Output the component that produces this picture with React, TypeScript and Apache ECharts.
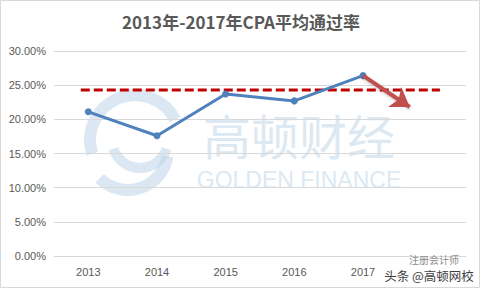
import React, { useEffect, useRef } from "react";
import * as echarts from "echarts";

const categories = ["2013", "2014", "2015", "2016", "2017", ""];
const passRates = [21.1, 17.6, 23.7, 22.7, 26.4];
const yTicks = { min: 0, max: 30, interval: 5 };
const avgLine = [
  [0.39, 24.3],
  [5.62, 24.3],
];
const arrowFrom = [4.5, 26.4];
const arrowTo = [5.18, 21.8];
const titleText = "2013年-2017年CPA平均通过率";

export default function App() {
  const ref = useRef<HTMLDivElement>(null);
  useEffect(() => {
    document.body.style.margin = "0";
    const chart = echarts.init(ref.current!, undefined, { renderer: "svg" });
    const wm = "rgba(190,212,232,0.55)";
    chart.setOption({
      animation: false,
      backgroundColor: "#ffffff",
      title: {
        text: titleText,
        left: "center",
        top: 8,
        textStyle: {
          fontFamily: "Noto Sans CJK SC",
          fontWeight: "bold",
          fontSize: 17,
          color: "#595959",
        },
      },
      graphic: [
        {
          type: "rect",
          shape: { x: 0.5, y: 0.5, width: 479, height: 287 },
          style: { fill: "none", stroke: "#d9d9d9", lineWidth: 1 },
          silent: true,
          z: -1,
        },
        {
          type: "arc",
          shape: { cx: 135, cy: 140, r: 45, startAngle: Math.PI * 0.9, endAngle: Math.PI * 1.85 },
          style: { fill: "none", stroke: wm, lineWidth: 12 },
          silent: true,
          z: -1,
        },
        {
          type: "arc",
          shape: { cx: 140, cy: 140, r: 28, startAngle: Math.PI * 0.1, endAngle: Math.PI * 0.9 },
          style: { fill: "none", stroke: wm, lineWidth: 10 },
          silent: true,
          z: -1,
        },
        {
          type: "arc",
          shape: { cx: 128, cy: 150, r: 40, startAngle: Math.PI * 0.05, endAngle: Math.PI * 0.75 },
          style: { fill: "none", stroke: wm, lineWidth: 12 },
          silent: true,
          z: -1,
        },
        {
          type: "text",
          x: 299,
          y: 134,
          silent: true,
          z: -1,
          style: {
            text: "高顿财经",
            fill: wm,
            font: "48px 'Noto Sans CJK SC'",
            align: "center",
            verticalAlign: "middle",
          },
        },
        {
          type: "text",
          x: 299,
          y: 180,
          silent: true,
          z: -1,
          style: {
            text: "GOLDEN FINANCE",
            fill: wm,
            font: "23px 'Liberation Sans'",
            align: "center",
            verticalAlign: "middle",
          },
        },
        {
          type: "text",
          x: 434,
          y: 259,
          silent: true,
          z: 10,
          style: {
            text: "注册会计师",
            fill: "#8c8c8c",
            font: "10px 'Noto Sans CJK SC'",
            align: "center",
            verticalAlign: "middle",
          },
        },
        {
          type: "text",
          x: 429,
          y: 275,
          silent: true,
          z: 11,
          style: {
            text: "头条 @高顿网校",
            fill: "#404040",
            stroke: "#ffffff",
            lineWidth: 2,
            font: "12.5px 'Noto Sans CJK SC'",
            align: "center",
            verticalAlign: "middle",
          },
        },
      ],
      grid: { left: 54, right: 16, top: 51, bottom: 34 },
      xAxis: [
        {
          type: "category",
          data: categories,
          boundaryGap: true,
          axisLine: { lineStyle: { color: "#d9d9d9", width: 1 } },
          axisTick: { show: false },
          axisLabel: {
            color: "#595959",
            fontSize: 11,
            fontFamily: "Liberation Sans",
            margin: 10,
          },
        },
        {
          type: "value",
          min: 0,
          max: 6,
          show: false,
        },
      ],
      yAxis: {
        type: "value",
        min: yTicks.min,
        max: yTicks.max,
        interval: yTicks.interval,
        axisLine: { show: false },
        axisTick: { show: false },
        splitLine: { lineStyle: { color: "#d9d9d9", width: 1 } },
        axisLabel: {
          color: "#595959",
          fontSize: 11,
          fontFamily: "Liberation Sans",
          margin: 8,
          formatter: (v: number) => v.toFixed(2) + "%",
        },
      },
      series: [
        {
          type: "line",
          data: avgLine,
          xAxisIndex: 1,
          symbol: "none",
          lineStyle: { color: "#c00000", width: 3, type: [9, 4] },
          z: 3,
          markLine: {
            silent: true,
            symbol: ["none", "arrow"],
            symbolSize: [18, 18],
            label: { show: false },
            lineStyle: {
              color: "#c0504d",
              width: 4,
              type: "solid",
              shadowColor: "rgba(0,0,0,0.25)",
              shadowBlur: 3,
              shadowOffsetY: 1,
            },
            data: [[{ coord: arrowFrom }, { coord: arrowTo }]],
          },
        },
        {
          type: "line",
          data: passRates,
          xAxisIndex: 0,
          symbol: "circle",
          symbolSize: 7,
          itemStyle: { color: "#4f81bd" },
          lineStyle: { color: "#4f81bd", width: 3 },
          z: 4,
        },
      ],
    });
    return () => chart.dispose();
  }, []);
  return <div ref={ref} style={{ width: 482, height: 290 }} />;
}
